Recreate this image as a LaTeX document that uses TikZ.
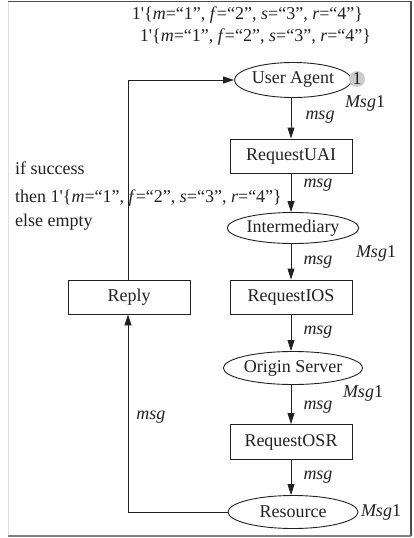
\documentclass[tikz,border=0pt]{standalone}
\usepackage{fontspec}
\setmainfont{Liberation Serif}
\usetikzlibrary{arrows.meta,shapes.geometric}
\definecolor{ink}{gray}{0.13}
\newcommand{\tok}{1\textquotesingle\{\textit{m}=“1”, \textit{f}=“2”, \textit{s}=“3”, \textit{r}=“4”\}}
\begin{document}
\begin{tikzpicture}[x=1pt,y=-1pt,
  every node/.style={text=ink, font=\fontsize{18}{20}\selectfont},
  place/.style={ellipse, draw=ink, line width=0.9pt, minimum width=130pt, minimum height=33pt, inner sep=0pt},
  trans/.style={rectangle, draw=ink, line width=0.9pt, minimum width=122pt, minimum height=34pt, inner sep=0pt},
  arc/.style={draw=ink, line width=0.9pt, -{Triangle[length=11pt,width=7pt]}},
  lab/.style={font=\fontsize{18}{20}\selectfont\itshape, inner sep=0pt},
  txt/.style={inner sep=0pt, anchor=west}]
\useasboundingbox (0,0) rectangle (414,538);
% frame
\draw[gray!25, line width=1pt] (8,1.5) -- (8,536);
\draw[gray!60!black, line width=1.2pt] (8,1.5) -- (411,1.5) -- (411,536);
\draw[gray, line width=2pt] (8,536) -- (411,536);

% initial markings
\node[inner sep=0pt] (init1) at (247.5,15) {\tok};
\node[inner sep=0pt] (init2) at (255.5,37) {\tok};

% places and transitions
\node[place, minimum width=117pt, minimum height=35pt] (ua) at (293,80) {User Agent};
\node[circle, fill=gray!40, inner sep=0pt, minimum size=16pt] (cnt) at (357,79) {1};
\node[trans] (uai) at (291,156) {RequestUAI};
\node[place, minimum height=31pt] (im) at (293,228) {Intermediary};
\node[trans] (ios) at (291,297) {RequestIOS};
\node[trans] (reply) at (129,297) {Reply};
\node[place] (os) at (293,368) {Origin Server};
\node[trans, minimum height=35pt] (osr) at (291,442) {RequestOSR};
\node[place] (res) at (293,512) {Resource};

% arcs
\draw[arc] (ua.south -| uai.north) -- (uai.north);
\draw[arc] (uai.south) -- (uai.south |- im.north);
\draw[arc] (uai.south |- im.south) -- (ios.north);
\draw[arc] (ios.south) -- (ios.south |- os.north);
\draw[arc] (ios.south |- os.south) -- (osr.north);
\draw[arc] (osr.south) -- (osr.south |- res.north);
\coordinate (lo) at (128,512);
\coordinate (hi) at (128,80);
\draw[arc] (res.west) -- (lo) -- (reply.south -| lo);
\draw[arc] (reply.north -| lo) -- (hi) -- (ua.west);

% arc inscriptions and colour sets
\node[lab] (m1) at (320,117) {msg};
\node[lab] (c1) at (365,103) {Msg\upshape1};
\node[lab] (m2) at (318,185) {msg};
\node[lab] (c2) at (376,253) {Msg\upshape1};
\node[lab] (m3) at (318,262) {msg};
\node[lab] (m4) at (318,332) {msg};
\node[lab] (c3) at (363,393) {Msg\upshape1};
\node[lab] (m5) at (318,407) {msg};
\node[lab] (m6) at (318,477) {msg};
\node[lab] (c4) at (381,512) {Msg\upshape1};
\node[lab] (m7) at (151,417) {msg};

% guarded output of Reply
\node[txt] (g1) at (15,168) {if success};
\node[txt] (g2) at (15,198) {then \tok};
\node[txt] (g3) at (15,222) {else empty};
\end{tikzpicture}
\end{document}
